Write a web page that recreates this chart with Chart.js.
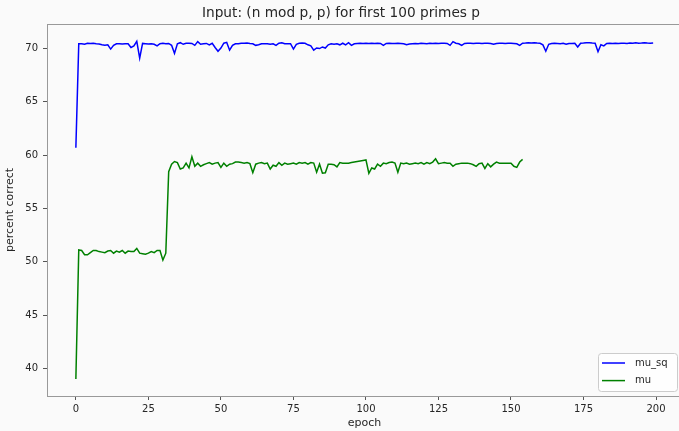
<!DOCTYPE html>
<html>
<head>
<meta charset="utf-8">
<script src="https://cdn.jsdelivr.net/npm/chart.js@4"></script>
<style>
html,body{margin:0;padding:0;background:#fafafa;overflow:hidden;width:679px;height:431px;}
canvas{display:block;}
</style>
</head>
<body>
<canvas id="c" width="690" height="431"></canvas>
<script>
const chartTitle = "Input: (n mod p, p) for first 100 primes p";
const xTitle = "epoch";
const yTitle = "percent correct";
const seriesNames = ["mu_sq", "mu"];
const xTicks = [0, 25, 50, 75, 100, 125, 150, 175, 200];
const yTicks = [40, 45, 50, 55, 60, 65, 70];

const muSq = [
 60.7, 70.45, 70.45, 70.40, 70.50, 70.48, 70.50, 70.45, 70.42, 70.35,
 70.32, 70.35, 69.95, 70.30, 70.45, 70.45, 70.42, 70.45, 70.45, 70.10,
 70.25, 70.68, 69.10, 70.48, 70.45, 70.42, 70.45, 70.40, 70.25, 70.45,
 70.50, 70.45, 70.48, 70.30, 69.55, 70.45, 70.55, 70.40, 70.50, 70.50,
 70.48, 70.30, 70.65, 70.40, 70.45, 70.48, 70.35, 70.50, 70.10, 69.75,
 70.05, 70.50, 70.58, 69.85, 70.30, 70.45, 70.45, 70.50, 70.50, 70.52,
 70.48, 70.45, 70.30, 70.35, 70.45, 70.45, 70.45, 70.40, 70.45, 70.30,
 70.50, 70.55, 70.45, 70.45, 70.45, 69.95, 70.40, 70.50, 70.52, 70.50,
 70.35, 70.25, 69.85, 70.05, 70.00, 70.15, 70.05, 70.35, 70.45, 70.40,
 70.45, 70.35, 70.50, 70.35, 70.55, 70.30, 70.45, 70.48, 70.50, 70.48,
 70.50, 70.48, 70.50, 70.48, 70.50, 70.48, 70.30, 70.48, 70.50, 70.48,
 70.48, 70.50, 70.48, 70.45, 70.35, 70.42, 70.45, 70.48, 70.45, 70.50,
 70.48, 70.45, 70.50, 70.48, 70.50, 70.48, 70.50, 70.50, 70.48, 70.30,
 70.65, 70.50, 70.45, 70.30, 70.48, 70.50, 70.50, 70.48, 70.50, 70.50,
 70.48, 70.50, 70.50, 70.48, 70.40, 70.48, 70.50, 70.50, 70.48, 70.50,
 70.50, 70.48, 70.45, 70.30, 70.50, 70.52, 70.55, 70.52, 70.55, 70.52,
 70.50, 70.35, 69.75, 70.40, 70.48, 70.50, 70.48, 70.45, 70.50, 70.40,
 70.48, 70.48, 70.50, 70.15, 70.50, 70.52, 70.55, 70.55, 70.52, 70.50,
 69.70, 70.35, 70.25, 70.48, 70.50, 70.48, 70.50, 70.48, 70.50, 70.50,
 70.48, 70.52, 70.50, 70.55, 70.50, 70.52, 70.55, 70.52, 70.50, 70.52
];

const mu = [
 39.0, 51.1, 51.05, 50.65, 50.65, 50.85, 51.05, 51.05, 50.95, 50.90,
 50.85, 51.00, 51.05, 50.80, 51.00, 50.90, 51.05, 50.80, 51.00, 50.95,
 50.95, 51.25, 50.80, 50.75, 50.70, 50.80, 50.95, 50.85, 51.05, 51.05,
 50.15, 50.80, 58.45, 59.15, 59.40, 59.30, 58.70, 58.80, 59.25, 58.80,
 59.85, 58.95, 59.25, 58.95, 59.10, 59.20, 59.30, 59.15, 59.25, 59.30,
 58.85, 59.25, 58.95, 59.15, 59.20, 59.35, 59.35, 59.30, 59.25, 59.30,
 59.20, 58.35, 59.15, 59.25, 59.30, 59.20, 59.25, 58.70, 59.05, 58.95,
 59.30, 59.05, 59.25, 59.15, 59.20, 59.25, 59.15, 59.30, 59.25, 59.30,
 59.15, 59.30, 59.25, 58.40, 59.15, 58.30, 58.35, 59.15, 59.15, 59.10,
 58.90, 59.30, 59.25, 59.25, 59.25, 59.30, 59.35, 59.40, 59.45, 59.50,
 59.55, 58.30, 58.80, 58.70, 59.15, 58.95, 59.25, 59.20, 59.30, 59.35,
 59.25, 58.40, 59.25, 59.20, 59.25, 59.15, 59.20, 59.25, 59.20, 59.30,
 59.15, 59.30, 59.20, 59.35, 59.65, 59.20, 59.25, 59.30, 59.25, 59.25,
 58.95, 59.15, 59.20, 59.25, 59.25, 59.25, 59.20, 59.10, 58.95, 59.20,
 59.25, 58.75, 59.20, 58.90, 59.15, 59.35, 59.25, 59.25, 59.25, 59.25,
 59.25, 58.95, 58.85, 59.35, 59.60
];

const FONT = "'DejaVu Sans', sans-serif";
const TXT = "#262626";

const bgPlugin = {
  id: 'bg',
  beforeDraw(chart) {
    const ctx = chart.ctx;
    ctx.save();
    ctx.fillStyle = '#fafafa';
    ctx.fillRect(0, 0, chart.width, chart.height);
    ctx.restore();
  },
  afterDatasetsDraw(chart) {
    const a = chart.chartArea, ctx = chart.ctx;
    ctx.save();
    ctx.strokeStyle = '#999';
    ctx.lineWidth = 1;
    ctx.strokeRect(Math.round(a.left) + 0.5, Math.round(a.top) + 0.5, Math.round(a.right - a.left), Math.round(a.bottom - a.top));
    ctx.restore();
  }
};

const legendPlugin = {
  id: 'innerLegend',
  afterDraw(chart) {
    const a = chart.chartArea, ctx = chart.ctx;
    const w = 79, h = 38;
    const x = a.right - 5 - w, y = a.bottom - 5 - h;
    ctx.save();
    ctx.fillStyle = 'rgba(255,255,255,0.8)';
    ctx.strokeStyle = '#cccccc';
    ctx.lineWidth = 1;
    ctx.beginPath();
    ctx.roundRect(x + 0.5, y + 0.5, w, h, 3);
    ctx.fill();
    ctx.stroke();
    ctx.font = "10px " + FONT;
    ctx.textBaseline = 'middle';
    chart.data.datasets.forEach((ds, i) => {
      const ry = y + 10 + i * 17.6;
      ctx.strokeStyle = ds.borderColor;
      ctx.lineWidth = 1.5;
      ctx.beginPath();
      ctx.moveTo(x + 4, ry);
      ctx.lineTo(x + 27, ry);
      ctx.stroke();
      ctx.fillStyle = TXT;
      ctx.fillText(ds.label, x + 37, ry);
    });
    ctx.restore();
  }
};

new Chart(document.getElementById('c'), {
  type: 'line',
  data: {
    datasets: [
      { label: seriesNames[0], data: muSq.map((v, i) => ({x: i, y: v})), borderColor: '#0000ff', borderWidth: 1.5, pointRadius: 0, tension: 0, fill: false },
      { label: seriesNames[1], data: mu.map((v, i) => ({x: i, y: v})), borderColor: '#008000', borderWidth: 1.5, pointRadius: 0, tension: 0, fill: false }
    ]
  },
  options: {
    responsive: false,
    animation: false,
    devicePixelRatio: 1,
    layout: { padding: { left: 0, right: 8, top: 0, bottom: 0 } },
    plugins: {
      legend: { display: false },
      tooltip: { enabled: false },
      title: {
        display: true, text: chartTitle, color: TXT,
        font: { family: FONT, size: 13.7, weight: 'normal' },
        padding: { top: 5, bottom: 2.6 }
      }
    },
    scales: {
      x: {
        type: 'linear', min: -9.95, max: 208.95,
        afterBuildTicks(s) { s.ticks = xTicks.map(v => ({value: v})); },
        afterFit(s) { s.height = 35; },
        grid: { drawOnChartArea: false, tickLength: 4, color: '#555' },
        border: { display: false },
        ticks: { color: TXT, font: { family: FONT, size: 10 }, padding: 3, maxRotation: 0, autoSkip: false },
        title: { display: true, text: xTitle, color: TXT, font: { family: FONT, size: 11 }, padding: { top: 0, bottom: 1 } }
      },
      y: {
        type: 'linear', min: 37.4, max: 72.3,
        afterBuildTicks(s) { s.ticks = yTicks.map(v => ({value: v})); },
        afterFit(s) { s.width = 47; },
        grid: { drawOnChartArea: false, tickLength: 4, color: '#555' },
        border: { display: false },
        ticks: { color: TXT, font: { family: FONT, size: 10 }, padding: 5, autoSkip: false },
        title: { display: true, text: yTitle, color: TXT, font: { family: FONT, size: 11 }, padding: { top: 4, bottom: 0 } }
      }
    }
  },
  plugins: [bgPlugin, legendPlugin]
});
</script>
</body>
</html>
